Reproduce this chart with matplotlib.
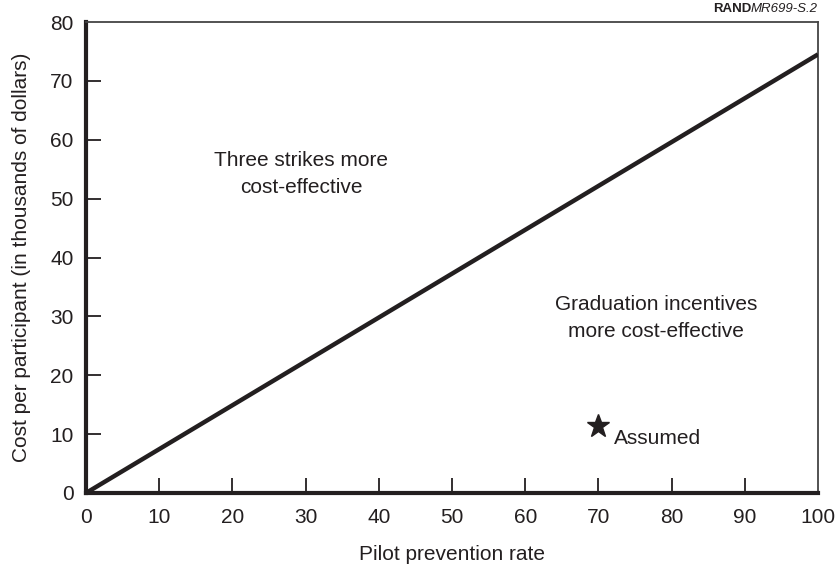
import matplotlib
matplotlib.use("Agg")
import matplotlib.pyplot as plt

plt.rcParams['font.family'] = ['Liberation Sans', 'DejaVu Sans']

line_x = [0, 100]
line_y = [0, 74.5]
star_x = [70]
star_y = [11.3]
xticks = [0, 10, 20, 30, 40, 50, 60, 70, 80, 90, 100]
yticks = [0, 10, 20, 30, 40, 50, 60, 70, 80]
xticks_inner = xticks[1:-1]
yticks_inner = yticks[1:-1]

fig = plt.figure(figsize=(8.37, 5.64), dpi=100)
ax = fig.add_axes([86/837, 71/564, 732/837, 471/564])
c = '#231f20'
fs = 15
ax.plot(line_x, line_y, color=c, lw=3.2, solid_capstyle='butt', zorder=3)
ax.plot(star_x, star_y, marker='*', color=c, markersize=17, linestyle='none', zorder=3)
ax.set_xlim(0, 100)
ax.set_ylim(0, 80)
ax.set_xticks(xticks)
ax.set_yticks(yticks)
ax.tick_params(which='major', length=0, labelsize=fs, labelcolor=c)
ax.tick_params(axis='x', which='major', pad=11)
ax.tick_params(axis='y', which='major', pad=9)

# inward tick marks (drawn explicitly)
tick_len_px = 15
ax.vlines(xticks_inner, 0, tick_len_px / 471, transform=ax.get_xaxis_transform(),
          colors=c, linewidth=1.3, zorder=2)
ax.hlines(yticks_inner, 0, tick_len_px / 732, transform=ax.get_yaxis_transform(),
          colors=c, linewidth=1.3, zorder=2)

for s in ['left', 'bottom']:
    ax.spines[s].set_linewidth(3)
    ax.spines[s].set_color(c)
for s in ['top', 'right']:
    ax.spines[s].set_linewidth(1.3)
    ax.spines[s].set_color('#444444')
ax.set_xlabel('Pilot prevention rate', fontsize=fs, color=c, labelpad=13)
ax.set_ylabel('Cost per participant (in thousands of dollars)', fontsize=fs, color=c, labelpad=14)
ax.text(29.4, 54.2, 'Three strikes more\ncost-effective', ha='center', va='center', fontsize=fs, color=c, linespacing=1.55)
ax.text(77.9, 29.7, 'Graduation incentives\nmore cost-effective', ha='center', va='center', fontsize=fs, color=c, linespacing=1.55)
ax.text(72.1, 9.2, 'Assumed', ha='left', va='center', fontsize=fs, color=c)

fig.canvas.draw()
r = fig.canvas.get_renderer()
t2 = fig.text(818/837, 1 - 9/564, 'MR699-S.2', ha='right', va='center', fontsize=9.5, style='italic', color=c)
bb = t2.get_window_extent(renderer=r)
fig.text(bb.x0 / 837, 1 - 9/564, 'RAND', ha='right', va='center', fontsize=9.5, fontweight='bold', color=c)
fig.savefig('out.png', dpi=100)
